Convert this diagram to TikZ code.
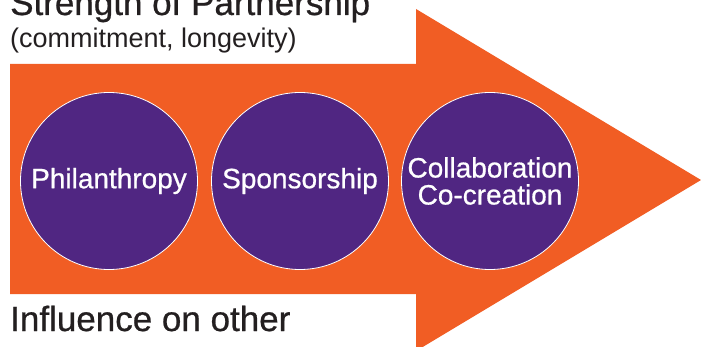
\documentclass[tikz,border=0pt]{standalone}
\usepackage{fontspec}
\setmainfont{Liberation Sans}
\newfontfamily\medio[FakeBold=0.7]{Liberation Sans}
\definecolor{flecha}{RGB}{241,93,36}
\definecolor{morado}{RGB}{80,38,130}
\definecolor{tinta}{RGB}{35,31,32}

\tikzset{
  etapa/.style={circle, fill=morado, draw=white, line width=0.8pt, minimum size=177pt,
                inner sep=0pt, text=white, align=center,
                font=\medio\fontsize{28}{27}\selectfont},
  rotulo/.style={anchor=base west, inner sep=0pt, text=tinta}}

\begin{document}
\begin{tikzpicture}[x=1pt, y=-1pt]
  \useasboundingbox (0,0) rectangle (701,347);
  \clip (0,0) rectangle (701,347);
  % big arrow
  \fill[flecha] (10,64) -- (416,64) -- (416,9) -- (701,180) -- (416,351)
                -- (416,294) -- (10,294) -- cycle;
  \foreach \n/\cx/\txt in {fil/109/Philanthropy, spo/300/Sponsorship,
                            col/490/{Collaboration\\Co-creation}}
    {\node[etapa] (\n) at (\cx,181) {\txt};}
  \node[rotulo, font=\medio\fontsize{35}{35}\selectfont] (fuerza) at (10,15) {Strength of Partnership};
  \node[rotulo, font=\fontsize{27}{27}\selectfont] (comp) at (10,48) {(commitment, longevity)};
  \node[rotulo, font=\medio\fontsize{35}{35}\selectfont] (influ) at (10,331) {Influence on other};
\end{tikzpicture}
\end{document}
